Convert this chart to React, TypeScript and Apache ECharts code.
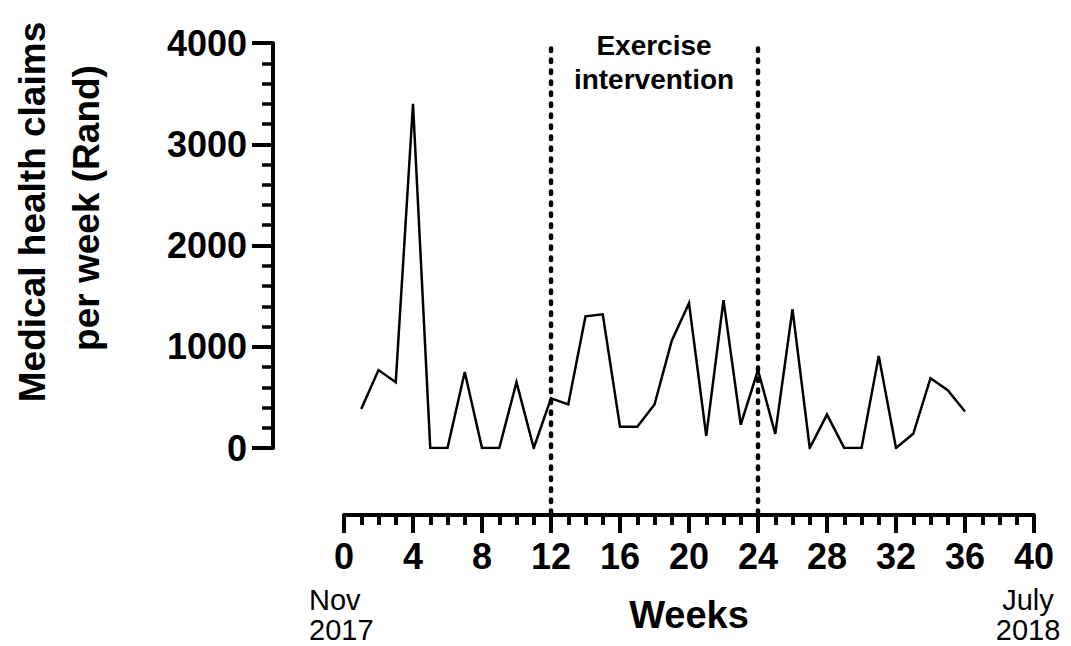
import React, { useEffect, useRef } from "react";
import * as echarts from "echarts";

// ---- data ----
const weeks = [
  1, 2, 3, 4, 5, 6, 7, 8, 9, 10, 11, 12, 13, 14, 15, 16, 17, 18,
  19, 20, 21, 22, 23, 24, 25, 26, 27, 28, 29, 30, 31, 32, 33, 34, 35, 36,
];
const claims = [
  385, 770, 650, 3400, 0, 0, 750, 0, 0, 650, 0, 490, 430, 1300, 1320, 210, 210, 430,
  1060, 1430, 120, 1460, 230, 770, 140, 1370, 0, 330, 0, 0, 910, 0, 140, 690, 570, 360,
];
const interventionWeeks = [12, 24];
const yTitleLines = ["Medical health claims", "per week (Rand)"];
const annotationLines = ["Exercise", "intervention"];
const startLabelLines = ["Nov", "2017"];
const endLabelLines = ["July", "2018"];
const xAxisTitle = "Weeks";

const FONT = "'Liberation Sans', Arial, Helvetica, sans-serif";

export default function App() {
  const ref = useRef<HTMLDivElement | null>(null);

  useEffect(() => {
    if (!ref.current) return;
    const chart = echarts.init(ref.current, null, { renderer: "svg" });

    const axisColor = "#000";
    const txt = (
      text: string,
      x: number,
      y: number,
      size: number,
      bold: boolean,
      align: string,
      rotation = 0
    ) => ({
      type: "text",
      x,
      y,
      rotation,
      silent: true,
      style: {
        text,
        fontSize: size,
        fontWeight: bold ? "bold" : "normal",
        fontFamily: FONT,
        fill: "#000",
        align,
        verticalAlign: "middle",
      },
    });

    const option: any = {
      animation: false,
      backgroundColor: "#fff",
      grid: [
        { left: 344, right: 37, top: 43, bottom: 198 },
        { left: 344, right: 37, top: 43, bottom: 133 },
      ],
      xAxis: [
        {
          type: "value",
          gridIndex: 0,
          min: 0,
          max: 40,
          interval: 4,
          offset: 67,
          name: xAxisTitle,
          nameLocation: "middle",
          nameGap: 81,
          nameTextStyle: {
            fontSize: 38,
            fontWeight: "bold",
            fontFamily: FONT,
            color: "#000",
          },
          axisLine: { show: true, onZero: false, lineStyle: { color: axisColor, width: 4 } },
          axisTick: { show: true, length: 18, lineStyle: { color: axisColor, width: 4 } },
          minorTick: { show: true, splitNumber: 4, length: 10, lineStyle: { color: axisColor, width: 4 } },
          axisLabel: {
            fontSize: 36,
            fontWeight: "bold",
            fontFamily: FONT,
            color: "#000",
            margin: 23,
          },
          splitLine: { show: false },
          minorSplitLine: { show: false },
        },
        { type: "value", gridIndex: 1, min: 0, max: 40, show: false },
      ],
      yAxis: [
        {
          type: "value",
          gridIndex: 0,
          min: 0,
          max: 4000,
          interval: 1000,
          offset: 71,
          axisLine: { show: true, onZero: false, lineStyle: { color: axisColor, width: 4 } },
          axisTick: { show: true, length: 21, lineStyle: { color: axisColor, width: 4 } },
          minorTick: { show: true, splitNumber: 5, length: 11, lineStyle: { color: axisColor, width: 3.5 } },
          axisLabel: {
            fontSize: 36,
            fontWeight: "bold",
            fontFamily: FONT,
            color: "#000",
            margin: 26,
            formatter: (v: number) => String(v),
          },
          splitLine: { show: false },
          minorSplitLine: { show: false },
        },
        { type: "value", gridIndex: 1, min: 0, max: 1, show: false },
      ],
      series: [
        {
          type: "line",
          xAxisIndex: 0,
          yAxisIndex: 0,
          data: weeks.map((w, i) => [w, claims[i]]),
          symbol: "none",
          silent: true,
          lineStyle: { color: "#000", width: 2.5, join: "miter", miterLimit: 10 },
        },
        ...interventionWeeks.map((w) => ({
          type: "line",
          xAxisIndex: 1,
          yAxisIndex: 1,
          data: [
            [w, 0],
            [w, 1],
          ],
          symbol: "none",
          silent: true,
          lineStyle: { color: "#000", width: 4.5, type: [2.5, 8.5], cap: "round" },
        })),
      ],
      graphic: [
        txt(yTitleLines[0], 32, 212, 37, true, "center", Math.PI / 2),
        txt(yTitleLines[1], 86, 208, 37, true, "center", Math.PI / 2),
        txt(annotationLines[0], 654, 45, 28, true, "center"),
        txt(annotationLines[1], 654, 79, 28, true, "center"),
        txt(startLabelLines[0], 309, 600, 29, false, "left"),
        txt(startLabelLines[1], 309, 630, 29, false, "left"),
        txt(endLabelLines[0], 1028, 600, 29, false, "center"),
        txt(endLabelLines[1], 1028, 630, 29, false, "center"),
      ],
    };

    chart.setOption(option);
    return () => {
      chart.dispose();
    };
  }, []);

  return (
    <div
      ref={ref}
      style={{ position: "fixed", left: 0, top: 0, width: 1071, height: 646, background: "#fff" }}
    />
  );
}
